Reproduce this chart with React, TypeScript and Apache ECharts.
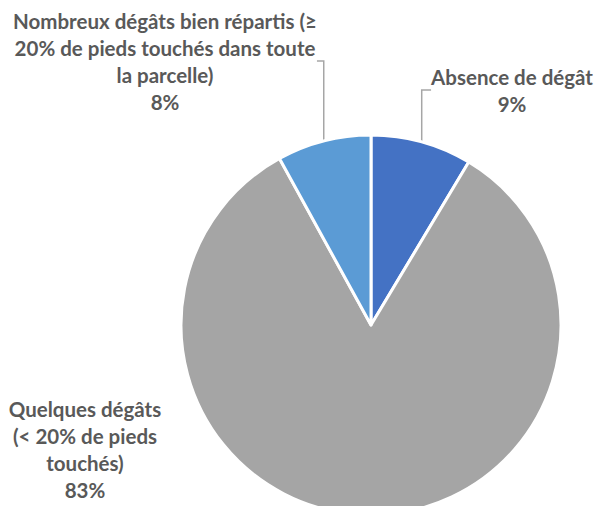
import React, { useEffect, useRef } from "react";
import * as echarts from "echarts";

const categories = [
  "Absence de dégât",
  "Quelques dégâts\n(< 20% de pieds\ntouchés)",
  "Nombreux dégâts bien répartis (≥\n20% de pieds touchés dans toute\nla parcelle)",
];
const values = [8.6, 83.4, 8.0];
const colors = ["#4472C4", "#A5A5A5", "#5B9BD5"];

const labelPos = [
  { x: 512, y: 63 },
  { x: 85, y: 395 },
  { x: 165, y: 7 },
];

export default function App() {
  const ref = useRef<HTMLDivElement>(null);
  useEffect(() => {
    if (!ref.current) return;
    const chart = echarts.init(ref.current, null, { renderer: "svg" });
    chart.setOption({
      animation: false,
      backgroundColor: "#ffffff",
      series: [
        {
          type: "pie",
          center: [371, 325],
          radius: 190,
          startAngle: 90,
          clockwise: true,
          percentPrecision: 0,
          data: categories.map((name, i) => ({
            name,
            value: values[i],
            itemStyle: { color: colors[i] },
            labelLine: { show: i !== 1 },
          })),
          itemStyle: { borderColor: "#ffffff", borderWidth: 3 },
          label: {
            show: true,
            formatter: "{b}\n{d}%",
            color: "#595959",
            fontFamily: "Lato",
            fontWeight: "bold",
            fontSize: 20.5,
            lineHeight: 27,
            align: "center",
            overflow: "none",
            edgeDistance: 0,
            bleedMargin: 0,
          },
          labelLine: {
            show: true,
            length: 10,
            length2: 10,
            lineStyle: { color: "#A6A6A6", width: 1.5 },
          },
          labelLayout: (p: any) => {
            const pos = labelPos[p.dataIndex];
            return { x: pos.x, y: pos.y, align: "center", verticalAlign: "top" };
          },
        },
      ],
    });
    return () => chart.dispose();
  }, []);
  return (
    <div
      ref={ref}
      style={{ position: "absolute", left: 0, top: 0, width: 598, height: 506 }}
    />
  );
}
